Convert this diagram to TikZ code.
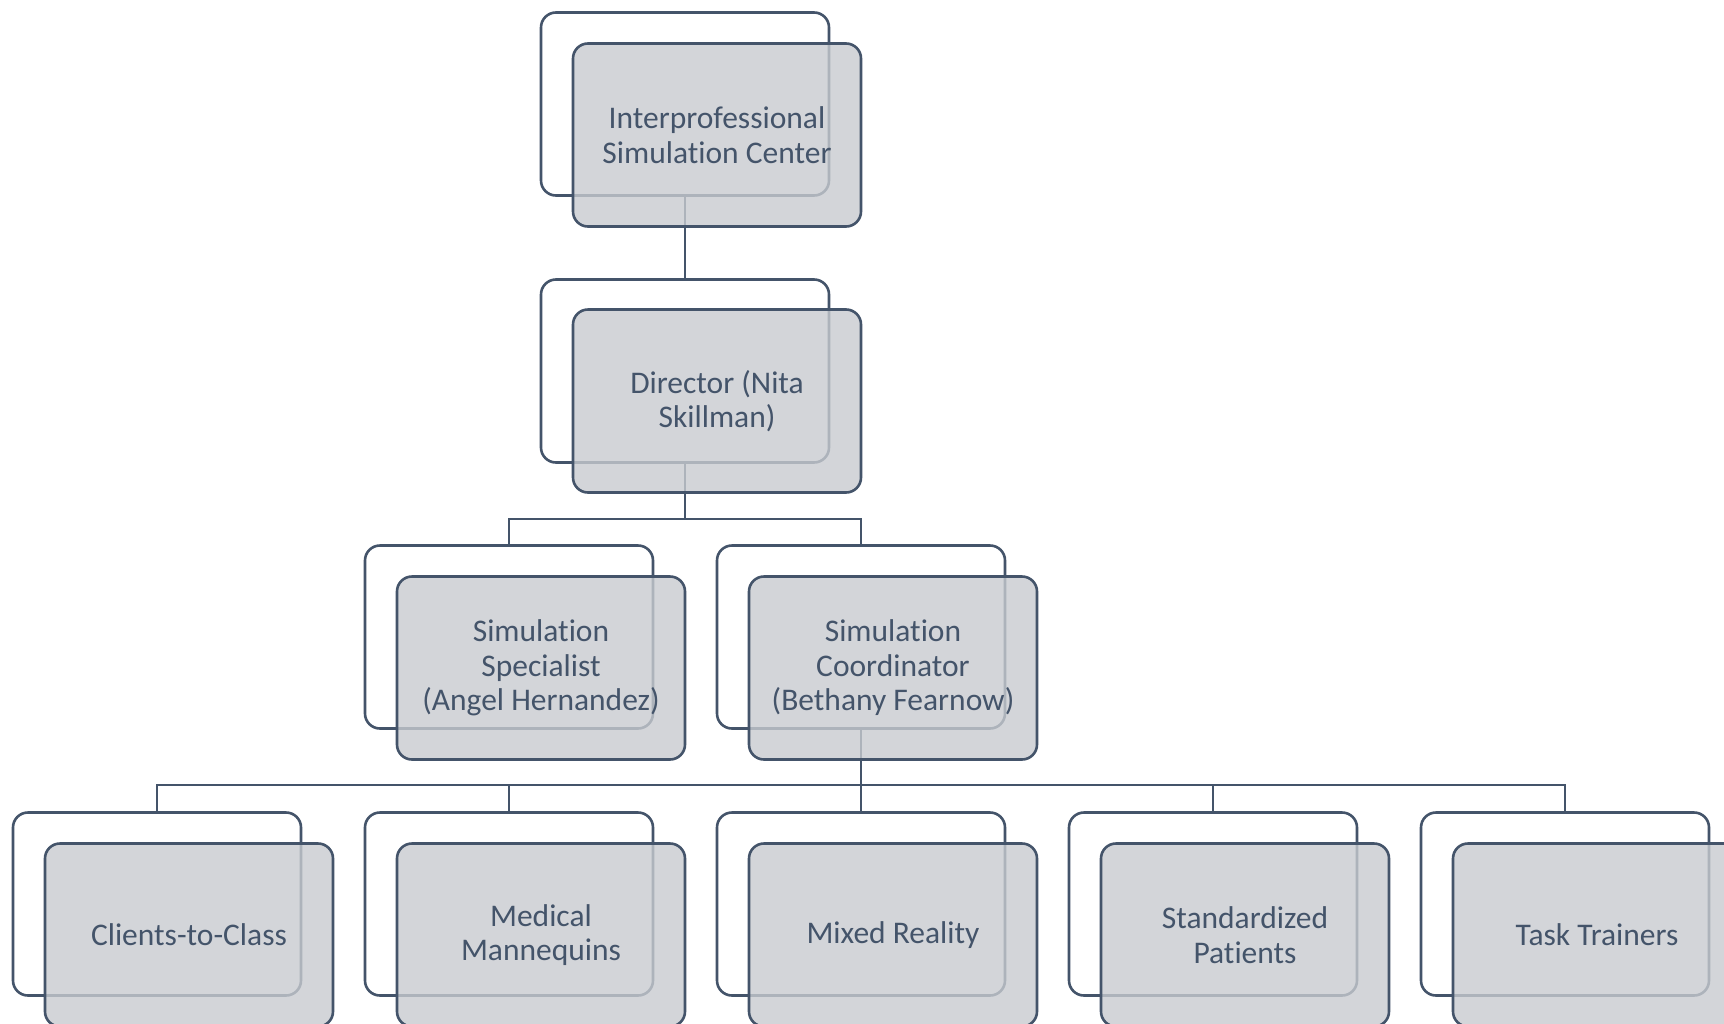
\documentclass[tikz,border=0pt]{standalone}
\usepackage{fontspec}
\setmainfont[Ligatures=NoCommon]{Carlito}
\definecolor{linec}{HTML}{44546A}
\definecolor{fillc}{HTML}{C8CBD0}
\begin{document}
\begin{tikzpicture}[x=1pt,y=-1pt,
  backbox/.style={draw=linec, line width=2.6pt, rounded corners=15pt, minimum width=288pt, minimum height=183pt, inner sep=0pt, fill=white},
  frontbox/.style={backbox, fill=fillc, fill opacity=0.8, text opacity=1, draw opacity=1, text=linec, align=center, font=\fontsize{31.5}{34.5}\selectfont},
  conn/.style={draw=linec, line width=2.6pt}]
\useasboundingbox[fill=white] (0,0) rectangle (1724,1023);
% back boxes
\node[backbox] (b1) at (685,104) {};
\node[backbox] (b2) at (685,371) {};
\node[backbox] (b3a) at (509,637) {};
\node[backbox] (b3b) at (861,637) {};
\node[backbox] (b4a) at (157,904) {};
\node[backbox] (b4b) at (509,904) {};
\node[backbox] (b4c) at (861,904) {};
\node[backbox] (b4d) at (1213,904) {};
\node[backbox] (b4e) at (1565,904) {};
% connectors
\coordinate (j2) at (685,519);
\coordinate (j3) at (861,785);
\draw[conn] (b1.south) -- (b2.north);
\draw[conn] (b2.south) -- (j2);
\draw[conn] (b3a.north) |- (j2) -| (b3b.north);
\draw[conn] (b3b.south) -- (j3);
\draw[conn] (b4a.north) |- (j3) -| (b4e.north);
\draw[conn] (b4b.north) -- (b4b.north |- j3);
\draw[conn] (b4c.north) -- (b4c.north |- j3);
\draw[conn] (b4d.north) -- (b4d.north |- j3);
% front boxes
\node[frontbox] (f1) at (717,135) {Interprofessional\\Simulation Center};
\node[frontbox] (f2) at (717,401) {Director (Nita\\Skillman)};
\node[frontbox] (f3a) at (541,668) {Simulation\\Specialist\\(Angel Hernandez)};
\node[frontbox] (f3b) at (893,668) {Simulation\\Coordinator\\(Bethany Fearnow)};
\node[frontbox] (f4a) at (189,935) {Clients-to-Class};
\node[frontbox] (f4b) at (541,935) {Medical\\Mannequins};
\node[frontbox] (f4c) at (893,935) {Mixed Reality};
\node[frontbox] (f4d) at (1245,935) {Standardized\\Patients};
\node[frontbox] (f4e) at (1597,935) {Task Trainers};
\end{tikzpicture}
\end{document}
